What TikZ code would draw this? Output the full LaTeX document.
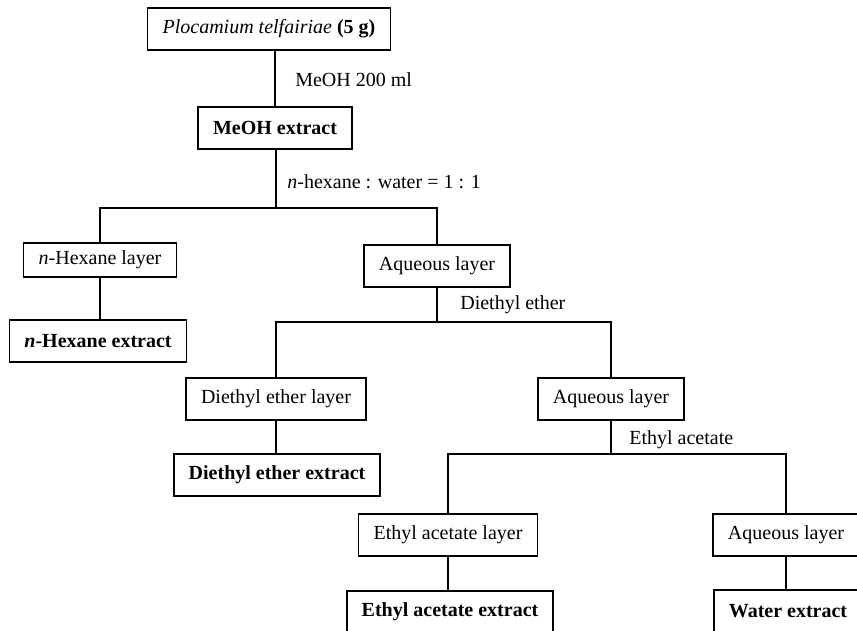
\documentclass[tikz,border=0pt]{standalone}
\usepackage{fontspec}
\setmainfont{Liberation Serif}
\begin{document}
\begin{tikzpicture}[x=0.6pt,y=-0.6pt]

\def\boxh{25.2pt}
\def\lw{1pt}

\tikzset{box/.style = {draw, rectangle, line width=\lw, inner xsep=9pt, inner ysep=0pt, minimum height=\boxh, font=\fontsize{12}{14}\selectfont}}
\tikzset{lbl/.style = {anchor=west, inner sep=0pt, font=\fontsize{12}{14}\selectfont}}

\useasboundingbox (0,0) rectangle (857,630);
\clip (0,0) rectangle (857,630);

% start
\node[box] (plo) at (269,29) {\textit{Plocamium telfairiae} \textbf{(5 g)}};
\node[box] (meoh) at (275,128) {\textbf{MeOH extract}};
\node[lbl] (l1) at (295,80) {MeOH 200 ml};
\node[lbl] (l2) at (287,182) {\textit{n}-hexane : water = 1 : 1};

% hexane step
\node[box, minimum height=20.4pt] (hexl) at (100,260) {\textit{n}-Hexane layer};
\node[box] (hexe) at (98,341) {\textbf{\textit{n}-Hexane extract}};
\node[box] (aq1) at (437,266) {Aqueous layer};
\node[lbl] (l3) at (460,305) {Diethyl ether};

% ether step
\node[box] (del) at (276,399) {Diethyl ether layer};
\node[box] (dee) at (277,475) {\textbf{Diethyl ether extract}};
\node[box] (aq2) at (611,399) {Aqueous layer};
\node[lbl] (l4) at (629,440) {Ethyl acetate};

% acetate step
\node[box] (eal) at (448,535) {Ethyl acetate layer};
\node[box] (eae) at (450,612) {\textbf{Ethyl acetate extract}};
\node[box] (aq3) at (786,535) {Aqueous layer};
\node[box] (we) at (788,611) {\textbf{Water extract}};

\coordinate (S1) at (276,208);
\coordinate (S2) at (437,322);
\coordinate (S3) at (611,454);

\begin{scope}[line width=\lw]
\draw (plo.south -| meoh.north) -- (meoh.north);
\draw (meoh.south -| S1) -- (S1);
\draw (hexl.north) |- (S1) -| (aq1.north);
\draw (hexl.south) -- (hexl.south |- hexe.north);

\draw (aq1.south) -- (S2);
\draw (del.north) |- (S2) -| (aq2.north);
\draw (del.south) -- (del.south |- dee.north);

\draw (aq2.south) -- (S3);
\draw (eal.north) |- (S3) -| (aq3.north);
\draw (eal.south) -- (eal.south |- eae.north);
\draw (aq3.south) -- (aq3.south |- we.north);
\end{scope}

\end{tikzpicture}
\end{document}
